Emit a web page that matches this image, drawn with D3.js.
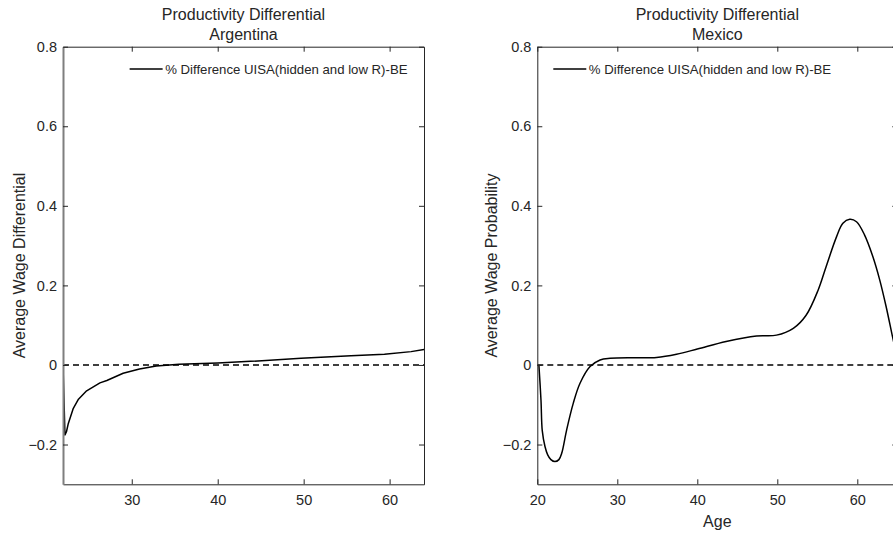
<!DOCTYPE html>
<html><head><meta charset="utf-8">
<script src="https://cdn.jsdelivr.net/npm/d3@7"></script>
<style>body{margin:0;background:#fff;} svg{display:block;} text{font-family:"Liberation Sans",Arial,sans-serif;fill:#262626;}</style>
</head><body>
<svg id="chart" width="893" height="535"></svg>
<script>
// ---- data ----
const argAge = [22, 22.23, 22.4, 22.62, 23.2, 23.8, 24.75, 26.3, 27.1, 29.0, 30.9, 32.85, 35.5, 40, 43.8, 49.7, 55.5, 59.4, 62.5, 64];
const argVal = [0, -0.176, -0.168, -0.147, -0.109, -0.086, -0.065, -0.045, -0.039, -0.021, -0.010, -0.0025, 0.002, 0.005, 0.009, 0.017, 0.023, 0.027, 0.0335, 0.039];
const mexAge = [20.2, 20.46, 20.62, 20.96, 21.3, 21.7, 22.2, 22.7, 23.05, 23.67, 24.5, 25.34, 26.6, 27.85, 29.1, 32.4, 34.9, 37.4, 40, 43.6, 47.4, 49.9, 52, 53.6, 55.1, 56.1, 57.4, 58.2, 59.05, 59.9, 60.9, 61.95, 62.8, 63.6, 64.4, 65];
const mexVal = [0, -0.088, -0.165, -0.205, -0.226, -0.238, -0.243, -0.238, -0.222, -0.163, -0.096, -0.046, -0.004, 0.0126, 0.0167, 0.018, 0.019, 0.027, 0.040, 0.059, 0.073, 0.075, 0.092, 0.125, 0.188, 0.247, 0.322, 0.356, 0.366, 0.360, 0.327, 0.272, 0.214, 0.147, 0.071, 0.015];
const yTicks = [-0.2, 0, 0.2, 0.4, 0.6, 0.8];
const argXTicks = [30, 40, 50, 60];
const mexXTicks = [20, 30, 40, 50, 60];
const titleLine1 = "Productivity Differential";
const legendLabel = "% Difference UISA(hidden and low R)-BE";

const panels = [
  {name:"Argentina", age:argAge, val:argVal, xDom:[22,64], xTicks:argXTicks, left:63, right:424,
   ylabel:"Average Wage Differential", xlabel:null, legend:"ne", leftAxisColor:"#7f7f7f", leftAxisW:2, curve:d3.curveLinear},
  {name:"Mexico", age:mexAge, val:mexVal, xDom:[20,65], xTicks:mexXTicks, left:537.3, right:897.3,
   ylabel:"Average Wage Probability", xlabel:"Age", legend:"nw", leftAxisColor:"#262626", leftAxisW:1, curve:d3.curveCatmullRom.alpha(0.5)}
];
const yTop = 46.7, yBottom = 484.3;
const svg = d3.select("#chart");
const axisColor = "#262626";
const tickLen = 5;

panels.forEach((p, i) => {
  const x = d3.scaleLinear().domain(p.xDom).range([p.left, p.right]);
  const y = d3.scaleLinear().domain([-0.3, 0.8]).range([yBottom, yTop]);
  const g = svg.append("g");
  const clipId = "clip" + i;
  svg.append("clipPath").attr("id", clipId).append("rect")
    .attr("x", p.left).attr("y", yTop).attr("width", p.right - p.left).attr("height", yBottom - yTop);

  // zero dashed line
  g.append("line").attr("x1", p.left).attr("x2", p.right).attr("y1", y(0)).attr("y2", y(0))
    .attr("stroke", "#000").attr("stroke-width", 1.5).attr("stroke-dasharray", "6,4")
    .attr("clip-path", `url(#${clipId})`);

  // curve
  const pts = p.age.map((a, k) => [a, p.val[k]]);
  g.append("path").datum(pts)
    .attr("d", d3.line().x(d => x(d[0])).y(d => y(d[1])).curve(p.curve))
    .attr("fill", "none").attr("stroke", "#000").attr("stroke-width", 1.5)
    .attr("stroke-linejoin", "round")
    .attr("clip-path", `url(#${clipId})`);

  // axes (bottom, left, top, right) with inward ticks
  const fs = "14.5px";
  const ax = g.append("g").attr("transform", `translate(0,${yBottom})`)
    .call(d3.axisBottom(x).tickValues(p.xTicks).tickFormat(d3.format("d")).tickSizeInner(-tickLen).tickSizeOuter(0).tickPadding(10));
  const ay = g.append("g").attr("transform", `translate(${p.left},0)`)
    .call(d3.axisLeft(y).tickValues(yTicks).tickFormat(d => d === 0 ? "0" : d3.format(".1f")(d)).tickSizeInner(-tickLen).tickSizeOuter(0).tickPadding(6));
  const axT = g.append("g").attr("transform", `translate(0,${yTop})`)
    .call(d3.axisTop(x).tickValues(p.xTicks).tickFormat("").tickSizeInner(-tickLen).tickSizeOuter(0));
  const axR = g.append("g").attr("transform", `translate(${p.right},0)`)
    .call(d3.axisRight(y).tickValues(yTicks).tickFormat("").tickSizeInner(-tickLen).tickSizeOuter(0));
  [ax, ay, axT, axR].forEach(a => {
    a.selectAll("path.domain").attr("stroke", axisColor).attr("stroke-width", 1);
    a.selectAll(".tick line").attr("stroke", axisColor).attr("stroke-width", 1);
    a.selectAll("text").attr("font-size", fs).attr("font-family", '"Liberation Sans",Arial,sans-serif').attr("fill", axisColor);
  });
  ay.select("path.domain").attr("stroke", p.leftAxisColor).attr("stroke-width", p.leftAxisW);

  // titles
  const cx = (p.left + p.right) / 2;
  g.append("text").attr("x", cx).attr("y", 20).attr("text-anchor", "middle").attr("font-size", "16px").text(titleLine1);
  g.append("text").attr("x", cx).attr("y", 39.5).attr("text-anchor", "middle").attr("font-size", "16px").text(p.name);

  // y label
  const ylx = p.left - 38 - (i === 1 ? 2 : 0);
  g.append("text").attr("transform", `translate(${ylx},${(yTop + yBottom) / 2}) rotate(-90)`)
    .attr("text-anchor", "middle").attr("font-size", "16px").text(p.ylabel);
  if (p.xlabel) {
    g.append("text").attr("x", cx).attr("y", 527).attr("text-anchor", "middle").attr("font-size", "16px").text(p.xlabel);
  }

  // legend
  const lg = g.append("g");
  const ly = 69;
  const lt = lg.append("text").attr("y", ly).attr("dy", "0.35em").attr("font-size", "13.2px").attr("fill", "#000").text(legendLabel);
  let lineStart;
  if (p.legend === "ne") {
    const w = lt.node().getComputedTextLength();
    const textStart = p.right - 16 - w;
    lineStart = textStart - 36;
  } else {
    lineStart = p.left + 16;
  }
  lg.append("line").attr("x1", lineStart).attr("x2", lineStart + 33).attr("y1", ly).attr("y2", ly)
    .attr("stroke", "#000").attr("stroke-width", 1.5);
  lt.attr("x", lineStart + 35.5);
});
</script>
</body></html>
